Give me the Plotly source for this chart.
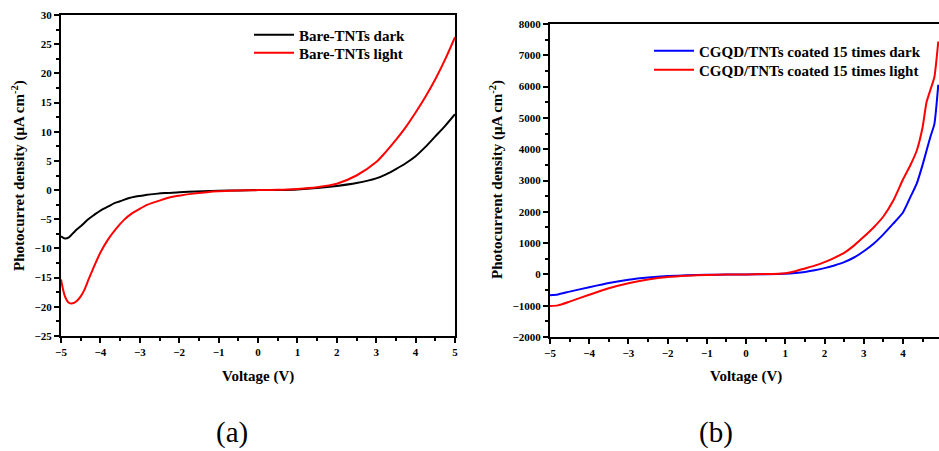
import plotly.graph_objects as go

# ---------------- data ----------------
volt_dark_a = [-5.0, -4.9, -4.8, -4.64, -4.5, -4.31, -4.15, -4.0, -3.8, -3.63, -3.45, -3.29, -3.1, -2.86, -2.6, -2.36, -2.0, -1.77,
               -1.4, -1.0, -0.5, 0.0, 0.5, 1.0, 1.5, 2.0, 2.5, 3.0, 3.25, 3.5, 3.75, 4.0, 4.25, 4.5, 4.75, 5.0]
bare_dark = [-7.9, -8.3, -8.1, -7.0, -6.2, -5.0, -4.2, -3.5, -2.8, -2.2, -1.8, -1.4, -1.1, -0.86, -0.65, -0.5, -0.37, -0.3,
             -0.2, -0.12, -0.05, 0.0, 0.03, 0.12, 0.35, 0.7, 1.2, 2.0, 2.7, 3.6, 4.6, 5.8, 7.4, 9.2, 11.0, 13.0]

volt_light_a = [-5.0, -4.9, -4.8, -4.7, -4.6, -4.5, -4.4, -4.3, -4.2, -4.0, -3.8, -3.6, -3.4, -3.2, -3.0, -2.8, -2.5, -2.2,
                -2.0, -1.7, -1.3, -1.0, -0.5, 0.0, 0.5, 1.0, 1.5, 2.0, 2.5, 3.0, 3.25, 3.5, 3.75, 4.0, 4.25, 4.5, 4.75, 5.0]
bare_light = [-15.3, -18.2, -19.3, -19.4, -19.0, -18.2, -17.0, -15.3, -13.7, -10.7, -8.4, -6.6, -5.1, -4.0, -3.2, -2.5, -1.8, -1.2,
              -0.95, -0.65, -0.35, -0.2, -0.08, 0.0, 0.05, 0.2, 0.5, 1.1, 2.5, 4.8, 6.6, 8.6, 10.8, 13.3, 16.0, 19.0, 22.4, 26.2]

volt_b = [-5.0, -4.8, -4.5, -4.0, -3.5, -3.0, -2.5, -2.0, -1.5, -1.0, -0.5, 0.0, 0.5, 1.0, 1.25, 1.5, 1.75, 2.0, 2.25, 2.5, 2.75, 3.0,
          3.25, 3.5, 3.75, 4.0, 4.2, 4.35, 4.5, 4.6, 4.7, 4.8, 4.9]
cgqd_dark = [-667, -640, -550, -410, -275, -170, -100, -55, -30, -15, -5, 0, 5, 20, 45, 80, 130, 200, 285, 390, 540, 740,
             980, 1280, 1620, 1980, 2500, 2900, 3500, 3950, 4400, 4800, 6060]
cgqd_light = [-1010, -990, -870, -650, -440, -280, -160, -80, -40, -20, -5, 0, 10, 40, 100, 190, 280, 390, 530, 690, 920, 1200,
              1500, 1850, 2350, 3030, 3520, 3950, 4700, 5500, 5900, 6300, 7440]

left_ticks_x = [-5, -4, -3, -2, -1, 0, 1, 2, 3, 4, 5]
right_ticks_x = [-5, -4, -3, -2, -1, 0, 1, 2, 3, 4]
left_ticks_y = [-25, -20, -15, -10, -5, 0, 5, 10, 15, 20, 25, 30]
right_ticks_y = [-2000, -1000, 0, 1000, 2000, 3000, 4000, 5000, 6000, 7000, 8000]

# ---------------- figure ----------------
W, H = 939, 451
FONT = "Liberation Serif, Times New Roman, serif"

def px(x):
    return x / W

def py(y):
    return 1 - y / H

fig = go.Figure()
fig.add_trace(go.Scatter(x=volt_dark_a, y=bare_dark, mode="lines", name="Bare-TNTs dark", showlegend=True,
                         line=dict(color="black", width=2, shape="spline", smoothing=0.8), xaxis="x", yaxis="y", legend="legend"))
fig.add_trace(go.Scatter(x=volt_light_a, y=bare_light, mode="lines", name="Bare-TNTs light", showlegend=True,
                         line=dict(color="#ff0000", width=2, shape="spline", smoothing=0.8), xaxis="x", yaxis="y", legend="legend2"))
fig.add_trace(go.Scatter(x=volt_b, y=cgqd_dark, mode="lines", name="CGQD/TNTs coated 15 times dark", showlegend=True,
                         line=dict(color="#0000ff", width=2, shape="spline", smoothing=0.5), xaxis="x2", yaxis="y2", legend="legend3"))
fig.add_trace(go.Scatter(x=volt_b, y=cgqd_light, mode="lines", name="CGQD/TNTs coated 15 times light", showlegend=True,
                         line=dict(color="#ff0000", width=2, shape="spline", smoothing=0.5), xaxis="x2", yaxis="y2", legend="legend4"))

tickfont = dict(family=FONT, size=11, color="black", weight="bold")
common = dict(showline=True, linecolor="black", linewidth=2, ticks="outside", ticklen=5, tickwidth=2,
              tickcolor="black", showgrid=False, zeroline=False, tickfont=tickfont, automargin=False)
minor_common = dict(ticks="outside", ticklen=3, tickwidth=2, tickcolor="black")

legfont = dict(family=FONT, size=15, color="black", weight="bold")
def leg(x, y):
    return dict(x=px(x), y=py(y), xanchor="left", yanchor="middle", bgcolor="rgba(0,0,0,0)",
                font=legfont, itemwidth=40, borderwidth=0, visible=True)

fig.update_layout(
    template="none",
    showlegend=True,
    width=W, height=H, margin=dict(l=0, r=0, t=0, b=0, autoexpand=False),
    paper_bgcolor="white", plot_bgcolor="white",
    xaxis=dict(domain=[px(61), px(455)], range=[-5, 5], tickvals=left_ticks_x, mirror=True,
               minor=dict(dtick=0.5, **minor_common), anchor="y", **common),
    yaxis=dict(domain=[py(336), py(15)], range=[-25, 30], tickvals=left_ticks_y, mirror=True,
               minor=dict(dtick=2.5, **minor_common), anchor="x", **common),
    xaxis2=dict(domain=[px(550), 1.0], range=[-5, -5 + (939 - 550) / 39.22], tickvals=right_ticks_x, mirror=True,
                minor=dict(dtick=0.5, **minor_common), anchor="y2", **common),
    yaxis2=dict(domain=[py(337), py(24)], range=[-2000, 8000], tickvals=right_ticks_y, mirror=False,
                minor=dict(dtick=500, **minor_common), anchor="x2", **common),
    legend=leg(249, 35),
    legend2=leg(249, 53),
    legend3=leg(649, 51),
    legend4=leg(649, 70),
)

annfont = dict(family=FONT, size=15, color="black", weight="bold")
def ann(text, x, y, font, angle=0):
    fig.add_annotation(text=text, x=px(x), y=py(y), xref="paper", yref="paper", xanchor="center",
                       yanchor="middle", showarrow=False, textangle=angle, font=font)

ann("Voltage (V)", 258, 376, annfont)
ann("Voltage (V)", 746, 376, annfont)
ann("Photocurret density (\u03bcA cm<sup>-2</sup>)", 18, 176, annfont, -90)
ann("Photocurrent density (\u03bcA cm<sup>-2</sup>)", 496, 180, annfont, -90)
labfont = dict(family=FONT, size=29, color="black")
ann("(a)", 232, 432, labfont)
ann("(b)", 716, 432, labfont)

fig.write_html("out.html", config={"displayModeBar": False},
               post_script="document.body.style.margin='0px';")
